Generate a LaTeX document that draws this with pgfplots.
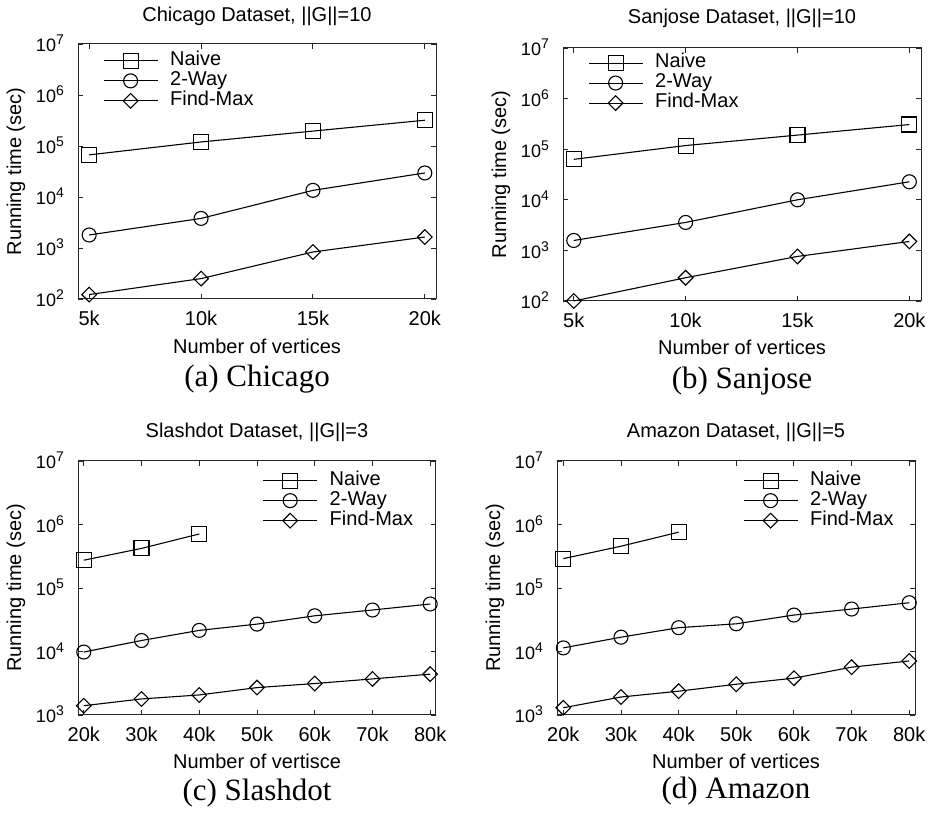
\documentclass[border=0pt]{standalone}
\usepackage{fontspec}
\setmainfont{Liberation Sans}
\newfontfamily\capfont{Liberation Serif}
\usepackage{pgfplots}
\pgfplotsset{compat=1.18}
\newcommand{\pf}{\fontsize{20bp}{24bp}\selectfont}
\newcommand{\cf}{\capfont\fontsize{31bp}{36bp}\selectfont}
\newcommand{\tp}[1]{{\fontsize{18bp}{20bp}\selectfont 10\raisebox{7bp}{\fontsize{14bp}{14bp}\selectfont #1}}}
\pgfplotsset{
  myax/.style={
    scale only axis, width=358bp, height=254bp,
    clip=false,
    yminorticks=false,
    axis line style={line width=1bp, black!85},
    tick style={line width=0.9bp, black!85},
    major tick length=5bp,
    tick align=inside,
    tick label style={font=\pf},
    label style={font=\pf},
    xlabel style={at={(axis description cs:0.5,-0.212)}, anchor=base},
    ylabel style={at={(axis description cs:-0.173,0.5)}, anchor=center},
    xticklabel style={anchor=base, yshift=-27bp},
    yticklabel style={anchor=base east, xshift=-14bp, yshift=-8bp, inner sep=0pt},
    ylabel={Running time (sec)},
    legend style={draw=none, fill=none, font=\pf, inner sep=0pt, outer sep=0pt, row sep=0pt, column sep=12bp,
      nodes={inner sep=0pt, text height=14.5bp, text depth=5.5bp}},
    legend cell align=left,
    legend image code/.code={\draw[mark repeat=2,mark phase=2] plot coordinates {(0bp,0bp) (27bp,0bp) (54bp,0bp)};},
    every axis plot/.append style={black, line width=1.1bp},
  },
  nv/.style={mark=square, mark size=7.5bp},
  tw/.style={mark=o, mark size=7bp},
  fm/.style={mark=square, mark size=5.2bp, mark options={rotate=45}},
}
\begin{document}
\begin{tikzpicture}
\path[use as bounding box] (0bp,0bp) rectangle (934bp,816bp);
% (a)
\begin{axis}[ymode=log, myax, at={(78bp,517bp)}, anchor=south west, height=255bp,
  xmin=4.5, xmax=20.5, ymin=1e2, ymax=1e7,
  xtick={5,10,15,20}, xticklabels={5k,10k,15k,20k},
  ytick={1e2,1e3,1e4,1e5,1e6,1e7},
  yticklabels={\tp{2},\tp{3},\tp{4},\tp{5},\tp{6},\tp{7}},
  xlabel={Number of vertices},
  legend style={at={(axis description cs:0.070,0.973)}, anchor=north west}]
\addplot[nv] coordinates {(5,6.7e4) (10,1.2e5) (15,1.96e5) (20,3.2e5)};
\addplot[tw] coordinates {(5,1800) (10,3800) (15,1.35e4) (20,2.96e4)};
\addplot[fm] coordinates {(5,122) (10,251) (15,835) (20,1640)};
\legend{Naive,2-Way,Find-Max}
\node[font=\pf, anchor=base] at (axis description cs:0.5,1.09) {Chicago Dataset, ||G||=10};
\node[font=\cf, anchor=base] at (axis description cs:0.5,-0.345) {(a) Chicago};
\end{axis}
% (b)
\begin{axis}[ymode=log, myax, at={(563bp,515bp)}, anchor=south west, height=253bp,
  xmin=4.52, xmax=20.52, ymin=1e2, ymax=1e7,
  xtick={5,10,15,20}, xticklabels={5k,10k,15k,20k},
  ytick={1e2,1e3,1e4,1e5,1e6,1e7},
  yticklabels={\tp{2},\tp{3},\tp{4},\tp{5},\tp{6},\tp{7}},
  xlabel={Number of vertices},
  legend style={at={(axis description cs:0.070,0.980)}, anchor=north west}]
\addplot[nv] coordinates {(5,6.3e4) (10,1.18e5) (15,1.9e5) (20,3.07e5)};
\addplot[tw] coordinates {(5,1570) (10,3570) (15,1.0e4) (20,2.27e4)};
\addplot[fm] coordinates {(5,100) (10,288) (15,760) (20,1500)};
\legend{Naive,2-Way,Find-Max}
\node[font=\pf, anchor=base] at (axis description cs:0.5,1.095) {Sanjose Dataset, ||G||=10};
\node[font=\cf, anchor=base] at (axis description cs:0.5,-0.345) {(b) Sanjose};
\end{axis}
% (c)
\begin{axis}[ymode=log, myax, at={(78bp,101bp)}, anchor=south west,
  xmin=19, xmax=81, ymin=1e3, ymax=1e7,
  xtick={20,30,40,50,60,70,80}, xticklabels={20k,30k,40k,50k,60k,70k,80k},
  ytick={1e3,1e4,1e5,1e6,1e7},
  yticklabels={\tp{3},\tp{4},\tp{5},\tp{6},\tp{7}},
  xlabel={Number of vertisce},
  legend style={at={(axis description cs:0.936,0.962)}, anchor=north east}]
\addplot[nv] coordinates {(20,2.74e5) (30,4.2e5) (40,7.1e5)};
\addplot[tw] coordinates {(20,9.8e3) (30,1.49e4) (40,2.15e4) (50,2.7e4) (60,3.65e4) (70,4.5e4) (80,5.6e4)};
\addplot[fm] coordinates {(20,1400) (30,1790) (40,2070) (50,2700) (60,3130) (70,3700) (80,4400)};
\legend{Naive,2-Way,Find-Max}
\node[font=\pf, anchor=base] at (axis description cs:0.5,1.091) {Slashdot Dataset, ||G||=3};
\node[font=\cf, anchor=base] at (axis description cs:0.5,-0.335) {(c) Slashdot};
\end{axis}
% (d)
\begin{axis}[ymode=log, myax, at={(557bp,101bp)}, anchor=south west,
  xmin=18.9, xmax=81, ymin=1e3, ymax=1e7,
  xtick={20,30,40,50,60,70,80}, xticklabels={20k,30k,40k,50k,60k,70k,80k},
  ytick={1e3,1e4,1e5,1e6,1e7},
  yticklabels={\tp{3},\tp{4},\tp{5},\tp{6},\tp{7}},
  xlabel={Number of vertices},
  legend style={at={(axis description cs:0.940,0.962)}, anchor=north east}]
\addplot[nv] coordinates {(20,2.9e5) (30,4.55e5) (40,7.57e5)};
\addplot[tw] coordinates {(20,1.14e4) (30,1.68e4) (40,2.37e4) (50,2.73e4) (60,3.75e4) (70,4.66e4) (80,5.86e4)};
\addplot[fm] coordinates {(20,1300) (30,1920) (40,2370) (50,3050) (60,3800) (70,5660) (80,7100)};
\legend{Naive,2-Way,Find-Max}
\node[font=\pf, anchor=base] at (axis description cs:0.5,1.091) {Amazon Dataset, ||G||=5};
\node[font=\cf, anchor=base] at (axis description cs:0.5,-0.327) {(d) Amazon};
\end{axis}
\end{tikzpicture}
\end{document}
